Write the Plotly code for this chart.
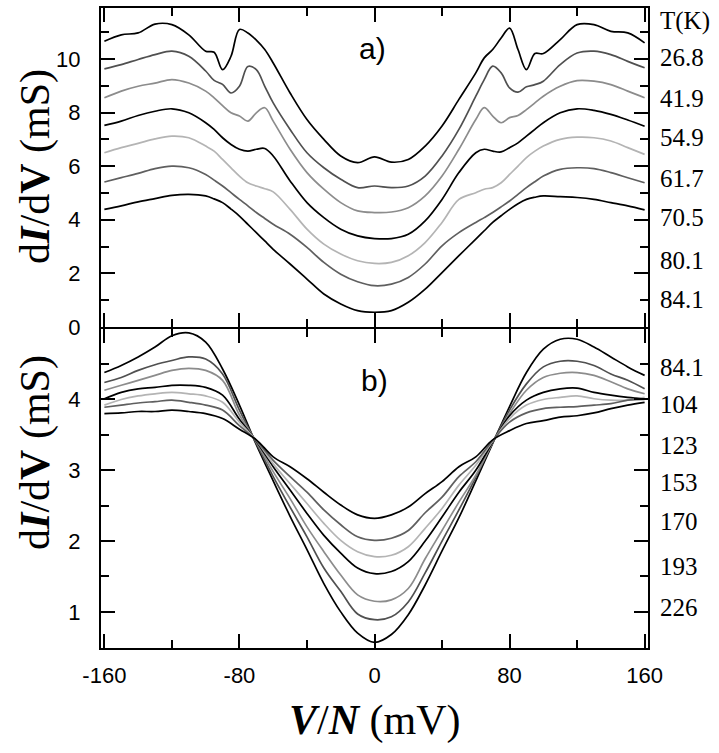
import plotly.graph_objects as go
from plotly.subplots import make_subplots

# ---------------- data ----------------
V_top = [-160, -150, -140, -130, -120, -110, -100, -95, -90, -85, -80, -75, -70, -65, -60,
         -50, -40, -30, -20, -10, 0, 10, 20, 30, 40, 50,
         60, 65, 70, 75, 80, 85, 90, 95, 100, 110, 120, 130, 140, 150, 160]

T_top = ["26.8", "41.9", "54.9", "61.7", "70.5", "80.1", "84.1"]

g_26_8 = [10.66, 10.9, 10.97, 11.3, 11.28, 10.9, 10.29, 10.25, 9.6, 10.1, 11.1, 10.97, 10.7, 10.35, 9.85,
          8.73, 7.74, 7.0, 6.38, 6.13, 6.35, 6.15, 6.25, 6.75, 7.5, 8.49,
          9.48, 10.04, 10.35, 10.78, 11.15, 10.35, 9.6, 10.2, 10.2, 10.72, 11.28, 11.28, 11.03, 10.97, 10.6]
g_41_9 = [9.63, 9.79, 9.98, 10.16, 10.29, 10.1, 9.55, 9.2, 9.05, 8.73, 8.98, 9.72, 9.6, 8.98, 8.36,
          7.37, 6.5, 5.94, 5.51, 5.2, 5.26, 5.2, 5.26, 5.63, 6.38, 7.37,
          8.61, 9.23, 9.73, 9.48, 8.92, 8.76, 8.96, 9.04, 9.17, 9.79, 10.22, 10.29, 10.16, 9.91, 9.67]
g_54_9 = [8.55, 8.8, 8.98, 9.1, 9.23, 9.1, 8.8, 8.55, 8.26, 7.99, 7.87, 7.68, 7.99, 8.18, 7.68,
          6.63, 5.76, 5.14, 4.64, 4.33, 4.27, 4.29, 4.45, 4.89, 5.63, 6.63,
          7.74, 8.18, 7.87, 7.62, 7.81, 7.89, 8.11, 8.36, 8.61, 8.98, 9.19, 9.17, 9.04, 8.8, 8.55]
g_61_7 = [7.52, 7.68, 7.89, 8.05, 8.14, 7.99, 7.62, 7.37, 7.06, 6.81, 6.63, 6.56, 6.63, 6.66, 6.38,
          5.45, 4.64, 4.08, 3.65, 3.4, 3.3, 3.3, 3.46, 3.96, 4.76, 5.76,
          6.5, 6.63, 6.56, 6.53, 6.69, 6.87, 7.12, 7.37, 7.62, 7.99, 8.14, 8.08, 7.93, 7.72, 7.49]
g_70_5 = [6.5, 6.69, 6.85, 7.02, 7.12, 7.06, 6.75, 6.56, 6.25, 5.94, 5.63, 5.38, 5.26, 5.16, 5.04,
          4.39, 3.65, 3.09, 2.72, 2.47, 2.37, 2.41, 2.66, 3.15, 3.9, 4.76,
          5.01, 5.14, 5.2, 5.38, 5.69, 6.0, 6.32, 6.56, 6.75, 7.0, 7.08, 7.06, 6.94, 6.69, 6.44]
g_80_1 = [5.41, 5.57, 5.73, 5.91, 6.0, 5.94, 5.69, 5.48, 5.26, 5.01, 4.76, 4.52, 4.27, 4.05, 3.83,
          3.46, 2.97, 2.41, 1.97, 1.69, 1.54, 1.6, 1.85, 2.35, 3.03, 3.52,
          3.9, 4.08, 4.27, 4.48, 4.7, 4.95, 5.2, 5.42, 5.63, 5.88, 5.94, 5.91, 5.76, 5.57, 5.38]
g_84_1 = [4.39, 4.52, 4.67, 4.79, 4.91, 4.95, 4.89, 4.78, 4.64, 4.4, 4.14, 3.83, 3.52, 3.21, 2.9,
          2.35, 1.79, 1.23, 0.86, 0.61, 0.55, 0.61, 0.92, 1.41, 2.03, 2.66,
          3.28, 3.59, 3.9, 4.15, 4.39, 4.6, 4.76, 4.84, 4.89, 4.86, 4.83, 4.76, 4.64, 4.52, 4.37]

V_bot = [-160, -150, -140, -130, -120, -110, -100, -90, -80, -70, -60, -50, -40, -30, -20, -10, 0,
         10, 20, 30, 40, 50, 60, 70, 80, 90, 100, 110, 120, 130, 140, 150, 160]

T_bot = ["84.1", "104", "123", "153", "170", "193", "226"]

b_84_1 = [4.38, 4.48, 4.6, 4.74, 4.9, 4.94, 4.81, 4.43, 3.92, 3.36, 2.85, 2.35, 1.88, 1.4, 1.0, 0.7, 0.57,
          0.68, 0.96, 1.38, 1.86, 2.33, 2.85, 3.38, 3.9, 4.38, 4.71, 4.85, 4.85, 4.74, 4.6, 4.46, 4.34]
b_104 = [4.24, 4.31, 4.41, 4.49, 4.55, 4.6, 4.57, 4.36, 3.85, 3.38, 2.91, 2.48, 2.06, 1.62, 1.29, 0.97, 0.89,
         0.93, 1.14, 1.55, 2.0, 2.44, 2.9, 3.39, 3.85, 4.22, 4.46, 4.54, 4.54, 4.48, 4.36, 4.27, 4.15]
b_123 = [4.13, 4.2, 4.27, 4.34, 4.41, 4.44, 4.41, 4.27, 3.78, 3.4, 2.98, 2.6, 2.2, 1.85, 1.52, 1.24, 1.15,
         1.17, 1.33, 1.75, 2.15, 2.55, 2.93, 3.39, 3.8, 4.13, 4.31, 4.37, 4.38, 4.34, 4.25, 4.15, 4.08]
b_153 = [4.01, 4.1, 4.15, 4.17, 4.2, 4.2, 4.17, 4.06, 3.72, 3.41, 3.05, 2.72, 2.39, 2.08, 1.83, 1.62, 1.54,
         1.57, 1.71, 2.0, 2.34, 2.69, 3.0, 3.4, 3.77, 3.99, 4.1, 4.15, 4.16, 4.1, 4.06, 4.03, 4.01]
b_170 = [3.92, 4.0, 4.05, 4.08, 4.1, 4.08, 4.05, 3.96, 3.68, 3.42, 3.09, 2.81, 2.53, 2.25, 2.01, 1.85, 1.78,
         1.8, 1.92, 2.18, 2.46, 2.79, 3.07, 3.41, 3.73, 3.92, 4.0, 4.03, 4.05, 4.01, 3.99, 3.99, 4.03]
b_193 = [3.89, 3.92, 3.95, 3.97, 3.99, 3.96, 3.92, 3.85, 3.63, 3.42, 3.14, 2.91, 2.69, 2.44, 2.23, 2.06, 2.01,
         2.04, 2.15, 2.4, 2.62, 2.91, 3.12, 3.42, 3.68, 3.81, 3.87, 3.89, 3.9, 3.92, 3.94, 3.99, 4.0]
b_226 = [3.8, 3.81, 3.83, 3.83, 3.85, 3.83, 3.8, 3.73, 3.58, 3.43, 3.19, 3.05, 2.88, 2.69, 2.51, 2.37, 2.32,
         2.37, 2.48, 2.67, 2.84, 3.05, 3.19, 3.43, 3.56, 3.66, 3.7, 3.75, 3.77, 3.81, 3.87, 3.92, 3.96]

x_tick_vals = [-160, -80, 0, 80, 160]
x_tick_text = ["-160", "-80", "0", "80", "160"]

top_series = [g_26_8, g_41_9, g_54_9, g_61_7, g_70_5, g_80_1, g_84_1]
bot_series = [b_84_1, b_104, b_123, b_153, b_170, b_193, b_226]

# ---------------- styling ----------------
colors = ["#000000", "#505050", "#8c8c8c", "#000000", "#b4b4b4", "#5f5f5f", "#000000"]

fig = make_subplots(rows=2, cols=1, shared_xaxes=True, vertical_spacing=0)

for name, ys, c in zip(T_top, top_series, colors):
    fig.add_trace(go.Scatter(x=V_top, y=ys, mode="lines", name=name,
                             line=dict(color=c, width=1.7, shape="spline", smoothing=1.0)),
                  row=1, col=1)
for name, ys, c in zip(T_bot, bot_series, colors):
    fig.add_trace(go.Scatter(x=V_bot, y=ys, mode="lines", name=name,
                             line=dict(color=c, width=1.7, shape="spline", smoothing=1.0)),
                  row=2, col=1)

tickfont = dict(family="Liberation Sans, Arial, sans-serif", size=22, color="black")
common = dict(showline=True, linecolor="black", linewidth=2, mirror="ticks",
              ticks="inside", ticklen=14, tickwidth=1.5, tickcolor="black",
              showgrid=False, zeroline=False, tickfont=tickfont)

fig.update_xaxes(range=[-162, 162], tickmode="array", tickvals=x_tick_vals, ticktext=x_tick_text,
                 minor=dict(tickmode="linear", tick0=0, dtick=40, ticks="inside", ticklen=8,
                            tickwidth=1.5, tickcolor="black", showgrid=False),
                 ticklabelstandoff=7, **common)
fig.update_xaxes(showticklabels=False, row=1, col=1)

gap = 1.0 / 640
fig.update_yaxes(range=[0, 11.9], tick0=0, dtick=2, domain=[0.5 + gap, 1],
                 minor=dict(dtick=1, ticks="inside", ticklen=8, tickwidth=1.5, tickcolor="black",
                            showgrid=False),
                 ticklabelstandoff=14, row=1, col=1, **common)
fig.update_yaxes(range=[0.49, 4.995], tick0=0, dtick=1, domain=[0, 0.5 - gap],
                 minor=dict(dtick=0.5, ticks="inside", ticklen=8, tickwidth=1.5, tickcolor="black",
                            showgrid=False),
                 ticklabelstandoff=14, row=2, col=1, **common)

serif = "Liberation Serif, Times New Roman, serif"
annotations = []
ytitle = "d<b><i>I</i></b>/d<b>V</b> (mS)"
for yc in (0.753, 0.306):
    annotations.append(dict(text=ytitle, xref="paper", yref="paper", x=-0.121, y=yc,
                            textangle=-90, showarrow=False, xanchor="center", yanchor="middle",
                            font=dict(family=serif, size=42, color="black")))
annotations.append(dict(text="<b><i>V</i></b>/<b><i>N</i></b> (mV)", xref="paper", yref="paper",
                        x=0.5, y=-0.1125, showarrow=False, xanchor="center", yanchor="middle",
                        font=dict(family=serif, size=42, color="black")))
annotations.append(dict(text="a)", xref="x", yref="y", x=-1, y=10.4, showarrow=False,
                        font=dict(family="Liberation Sans, Arial, sans-serif", size=30, color="black")))
annotations.append(dict(text="b)", xref="x2", yref="y2", x=0, y=4.27, showarrow=False,
                        font=dict(family="Liberation Sans, Arial, sans-serif", size=30, color="black")))

lab_font = dict(family=serif, size=25, color="black")
annotations.append(dict(text="T(K)", xref="paper", yref="paper", x=1.018, y=0.98,
                        xanchor="left", yanchor="middle", showarrow=False, font=lab_font))
top_lab_y = [0.923, 0.859, 0.798, 0.734, 0.672, 0.606, 0.544]
bot_lab_y = [0.439, 0.380, 0.317, 0.258, 0.197, 0.127, 0.064]
for t, yy in zip(T_top, top_lab_y):
    annotations.append(dict(text=t, xref="paper", yref="paper", x=1.018, y=yy,
                            xanchor="left", yanchor="middle", showarrow=False, font=lab_font))
for t, yy in zip(T_bot, bot_lab_y):
    annotations.append(dict(text=t, xref="paper", yref="paper", x=1.018, y=yy,
                            xanchor="left", yanchor="middle", showarrow=False, font=lab_font))

fig.update_layout(width=719, height=753,
                  margin=dict(l=101, r=71, t=8, b=105, autoexpand=False),
                  plot_bgcolor="white", paper_bgcolor="white", showlegend=False,
                  annotations=annotations)

# remove the default page margin so the figure sits at the window's corner
fig.write_html("out.html", config={"displayModeBar": False},
               post_script="document.body.style.margin='0';document.body.style.overflow='hidden';")
